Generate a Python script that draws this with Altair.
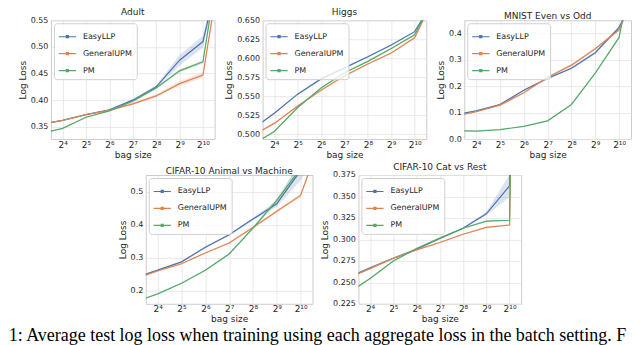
import altair as alt
import pandas as pd

METHODS = ["EasyLLP", "GeneralUPM", "PM"]
COLORS = ["#4C72B0", "#DD8452", "#55A868"]
BAG_EXP = [3, 4, 5, 6, 7, 8, 9, 10, 11]
X_TICKS = [4, 5, 6, 7, 8, 9, 10]

# Adult
adult_easyllp = [0.354, 0.362, 0.373, 0.382, 0.400, 0.425, 0.475, 0.510, 0.70]
adult_generalupm = [0.354, 0.362, 0.373, 0.381, 0.393, 0.408, 0.431, 0.447, 0.72]
adult_pm = [0.337, 0.347, 0.368, 0.380, 0.398, 0.423, 0.455, 0.472, 0.75]
adult_easyllp_err = [0.001, 0.001, 0.001, 0.001, 0.002, 0.003, 0.010, 0.011, 0.02]
adult_generalupm_err = [0.001, 0.001, 0.001, 0.001, 0.002, 0.003, 0.005, 0.005, 0.01]
adult_pm_err = [0.001, 0.001, 0.001, 0.001, 0.002, 0.002, 0.003, 0.003, 0.01]

# Higgs
higgs_easyllp = [0.5054, 0.528, 0.553, 0.573, 0.5875, 0.602, 0.6175, 0.635, 0.685]
higgs_generalupm = [0.4974, 0.5146, 0.5375, 0.558, 0.577, 0.5925, 0.607, 0.627, 0.69]
higgs_pm = [0.4852, 0.504, 0.5354, 0.561, 0.581, 0.596, 0.613, 0.631, 0.69]
higgs_easyllp_err = [0.001] * 9
higgs_generalupm_err = [0.001] * 9
higgs_pm_err = [0.001] * 9

# MNIST Even vs Odd
mnist_easyllp = [0.0906, 0.107, 0.131, 0.185, 0.230, 0.268, 0.327, 0.423, 0.60]
mnist_generalupm = [0.0844, 0.1036, 0.1286, 0.175, 0.2345, 0.280, 0.342, 0.414, 0.62]
mnist_pm = [0.032, 0.030, 0.036, 0.048, 0.069, 0.131, 0.250, 0.385, 0.85]
mnist_easyllp_err = [0.002, 0.002, 0.003, 0.003, 0.003, 0.004, 0.005, 0.006, 0.01]
mnist_generalupm_err = [0.002, 0.002, 0.003, 0.003, 0.003, 0.004, 0.005, 0.006, 0.01]
mnist_pm_err = [0.001, 0.001, 0.001, 0.001, 0.002, 0.002, 0.003, 0.004, 0.01]

# CIFAR-10 Animal vs Machine
animal_easyllp = [0.2374, 0.262, 0.287, 0.331, 0.369, 0.4165, 0.463, 0.564, 0.70]
animal_generalupm = [0.2338, 0.2596, 0.2814, 0.314, 0.344, 0.391, 0.440, 0.488, 0.69]
animal_pm = [0.164, 0.190, 0.222, 0.2616, 0.311, 0.389, 0.473, 0.570, 0.70]
animal_easyllp_err = [0.002, 0.002, 0.002, 0.003, 0.003, 0.004, 0.010, 0.030, 0.04]
animal_generalupm_err = [0.002, 0.002, 0.002, 0.002, 0.003, 0.003, 0.004, 0.005, 0.01]
animal_pm_err = [0.001, 0.001, 0.002, 0.002, 0.003, 0.004, 0.008, 0.015, 0.02]

# CIFAR-10 Cat vs Rest
cat_easyllp = [0.255, 0.267, 0.278, 0.2886, 0.3011, 0.313, 0.3298, 0.3624, 2.0]
cat_generalupm = [0.254, 0.266, 0.278, 0.2878, 0.2964, 0.306, 0.314, 0.3168, 2.0]
cat_pm = [0.2364, 0.2544, 0.2748, 0.2894, 0.3015, 0.313, 0.3212, 0.3223, 2.0]
cat_easyllp_err = [0.001, 0.001, 0.001, 0.001, 0.001, 0.001, 0.002, 0.013, 0.05]
cat_generalupm_err = [0.001, 0.001, 0.001, 0.001, 0.001, 0.001, 0.001, 0.001, 0.01]
cat_pm_err = [0.001, 0.001, 0.001, 0.001, 0.001, 0.001, 0.001, 0.001, 0.01]

CAPTION = "1: Average test log loss when training using each aggregate loss in the batch setting. F"

FONT = "DejaVu Sans"
TXT = "#262626"

SUP = "['⁰','¹','²','³','⁴','⁵','⁶','⁷','⁸','⁹','¹⁰','¹¹']"


def panel(title, series, ydom, yticks, yfmt, w, h):
    rows = []
    for m, (vals, errs) in zip(METHODS, series):
        for x, v, e in zip(BAG_EXP, vals, errs):
            rows.append({"exp": x, "loss": v, "lo": v - e, "hi": v + e, "method": m})
    df = pd.DataFrame(rows)
    xenc = alt.X(
        "exp:Q",
        scale=alt.Scale(domain=[3.5, 10.5], nice=False, zero=False),
        axis=alt.Axis(values=X_TICKS, labelExpr="'2' + " + SUP + "[datum.value]",
                      title="bag size", labelFontSize=9, labelPadding=1, titlePadding=1),
    )
    yscale = alt.Scale(domain=ydom, nice=False, zero=False)
    yaxis = alt.Axis(values=yticks, format=yfmt, title="Log Loss")
    cscale = alt.Scale(domain=METHODS, range=COLORS)
    band = alt.Chart(df).mark_area(opacity=0.2, clip=True).encode(
        x=xenc,
        y=alt.Y("lo:Q", scale=yscale, axis=yaxis),
        y2="hi:Q",
        fill=alt.Fill("method:N", scale=cscale, legend=None),
    )
    line = alt.Chart(df).mark_line(clip=True, strokeWidth=1.2).encode(
        x=xenc,
        y=alt.Y("loss:Q", scale=yscale, axis=yaxis),
        color=alt.Color(
            "method:N", scale=cscale,
            legend=alt.Legend(
                title=None, orient="top-left", offset=3,
                symbolType="M-1,0H1M-0.12,-0.12H0.12V0.12H-0.12Z",
                symbolSize=300, symbolStrokeWidth=1.2,
                labelFont=FONT, labelFontSize=8, labelColor=TXT,
                labelOffset=6, rowPadding=3, padding=4,
                fillColor="rgba(255,255,255,0.8)", strokeColor="#d0d0d0",
                cornerRadius=3,
            ),
        ),
    )
    return alt.layer(band, line).properties(
        title=alt.TitleParams(title, anchor="middle"), width=w, height=h
    )


adult = panel("Adult",
              [(adult_easyllp, adult_easyllp_err), (adult_generalupm, adult_generalupm_err), (adult_pm, adult_pm_err)],
              [0.327, 0.55], [0.35, 0.40, 0.45, 0.50, 0.55], ".2f", 164, 119)
higgs = panel("Higgs",
              [(higgs_easyllp, higgs_easyllp_err), (higgs_generalupm, higgs_generalupm_err), (higgs_pm, higgs_pm_err)],
              [0.494, 0.65], [0.500, 0.525, 0.550, 0.575, 0.600, 0.625, 0.650], ".3f", 164, 119)
mnist = panel("MNIST Even vs Odd",
              [(mnist_easyllp, mnist_easyllp_err), (mnist_generalupm, mnist_generalupm_err), (mnist_pm, mnist_pm_err)],
              [0.0, 0.45], [0.0, 0.1, 0.2, 0.3, 0.4], ".1f", 167, 119)
animal = panel("CIFAR-10 Animal vs Machine",
               [(animal_easyllp, animal_easyllp_err), (animal_generalupm, animal_generalupm_err), (animal_pm, animal_pm_err)],
               [0.16, 0.55], [0.2, 0.3, 0.4, 0.5], ".1f", 167, 129)
cat = panel("CIFAR-10 Cat vs Rest",
            [(cat_easyllp, cat_easyllp_err), (cat_generalupm, cat_generalupm_err), (cat_pm, cat_pm_err)],
            [0.225, 0.375], [0.225, 0.250, 0.275, 0.300, 0.325, 0.350, 0.375], ".3f", 163, 129)

spacer = alt.Chart(pd.DataFrame({"s": [0]})).mark_point(opacity=0).encode(
    x=alt.X("s:Q", axis=None), y=alt.Y("s:Q", axis=None)
).properties(width=59, height=10, view=alt.ViewBackground(stroke="transparent"))

top = alt.hconcat(adult, higgs, mnist, spacing=8).resolve_scale(color="independent").resolve_legend(color="independent")
bottom = alt.hconcat(spacer, animal, cat, spacing=6).resolve_scale(color="independent").resolve_legend(color="independent")

chart = alt.vconcat(top, bottom, spacing=2).resolve_scale(color="independent").resolve_legend(color="independent").properties(
    title=alt.TitleParams(CAPTION, orient="bottom", anchor="start", font="Liberation Serif",
                          fontSize=18, fontWeight="normal", color="black", offset=3, dx=-9),
    padding={"left": 0, "top": -1, "right": 0, "bottom": 0},
).configure(background="white").configure_view(stroke="#cccccc", strokeWidth=1).configure_axis(
    grid=True, gridColor="#e3e3e3", gridWidth=0.8, domain=False, ticks=False,
    labelFont=FONT, labelFontSize=8, labelColor=TXT, labelPadding=3,
    titleFont=FONT, titleFontSize=9, titleFontWeight="normal", titleColor=TXT, titlePadding=3,
).configure_title(font=FONT, fontSize=9, fontWeight="normal", color=TXT, offset=-1)

chart.save("out.html", embed_options={"renderer": "svg", "actions": False})
